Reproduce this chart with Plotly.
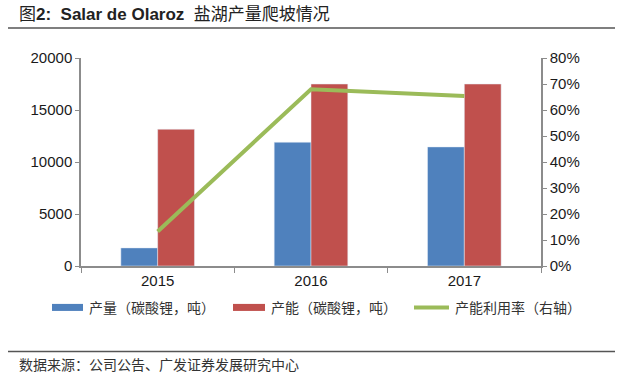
import plotly.graph_objects as go

years = ["2015", "2016", "2017"]
output_t = [1740, 11900, 11450]
capacity_t = [13150, 17500, 17500]
utilization = [0.133, 0.68, 0.654]
series_names = ["产量（碳酸锂，吨）", "产能（碳酸锂，吨）", "产能利用率（右轴）"]

blue = "#4F81BD"
red = "#C0504D"
green = "#9BBB59"
axis_col = "#8C8C8C"
txt = "#1a1a1a"

L, R, T, B = 81, 541, 58.3, 265.7
W, H = R - L, B - T

def px(x):
    return (x - L) / W

def py(y):
    return (B - y) / H

fig = go.Figure()
fig.add_trace(go.Bar(x=years, y=output_t, marker_color=blue, showlegend=False,
                     name=series_names[0]))
fig.add_trace(go.Bar(x=years, y=capacity_t, marker_color=red, showlegend=False,
                     name=series_names[1]))
fig.add_trace(go.Scatter(x=years, y=utilization, mode="lines", line=dict(color=green, width=4),
                         name=series_names[2], yaxis="y2", showlegend=False))

fig.update_layout(
    width=640, height=378,
    margin=dict(l=L, r=640 - R, t=T, b=378 - B, autoexpand=False),
    paper_bgcolor="white", plot_bgcolor="white",
    barmode="group", bargap=0.52, bargroupgap=0,
    font=dict(family="Liberation Sans, Arial, sans-serif", size=15, color=txt),
    xaxis=dict(type="category", categoryorder="array", categoryarray=years,
               showline=True, linecolor=axis_col, linewidth=1.5,
               ticks="outside", tickson="boundaries", ticklen=5, tickcolor=axis_col,
               tickfont=dict(size=15, color=txt), showgrid=False, zeroline=False),
    yaxis=dict(range=[0, 20000], dtick=5000, tickformat="d", showline=True, linecolor=axis_col,
               linewidth=1.5, ticks="outside", ticklen=4, tickcolor=axis_col, showgrid=False,
               zeroline=False, tickfont=dict(size=15, color=txt)),
    yaxis2=dict(range=[0, 0.8], dtick=0.1, tickformat=".0%", overlaying="y", side="right",
                showline=True, linecolor=axis_col, linewidth=1.5, ticks="outside", ticklen=4,
                tickcolor=axis_col, showgrid=False, zeroline=False,
                tickfont=dict(size=15, color=txt)),
    showlegend=False,
)

# manual legend (one row, like the reference)
leg_y = 307
leg_items = [(52, 83, blue, "rect"), (233, 265, red, "rect"), (414, 449, green, "line")]
for (x0, x1, col, kind), name in zip(leg_items, series_names):
    if kind == "rect":
        fig.add_shape(type="rect", xref="paper", yref="paper", x0=px(x0), x1=px(x1),
                      y0=py(leg_y - 3.5), y1=py(leg_y + 3.5), line=dict(width=0), fillcolor=col)
    else:
        fig.add_shape(type="line", xref="paper", yref="paper", x0=px(x0), x1=px(x1),
                      y0=py(leg_y), y1=py(leg_y), line=dict(color=col, width=4))
    fig.add_annotation(xref="paper", yref="paper", x=px(x1 + 4), y=py(leg_y), xanchor="left",
                       yanchor="middle", showarrow=False, text=name,
                       font=dict(family="Noto Sans CJK SC", size=14, color="#333"))

fig.add_annotation(xref="paper", yref="paper", x=px(17), y=py(15), xanchor="left", yanchor="middle",
                   showarrow=False,
                   text="图<b>2:  Salar de Olaroz</b>  盐湖产量爬坡情况",
                   font=dict(family="Liberation Sans, Noto Sans CJK SC", size=17, color="#222"))
fig.add_annotation(xref="paper", yref="paper", x=px(17), y=py(363), xanchor="left", yanchor="middle",
                   showarrow=False, text="数据来源：公司公告、广发证券发展研究中心",
                   font=dict(family="Noto Sans CJK SC", size=14, color="#333"))

for yy in (28.5, 351):
    fig.add_shape(type="line", xref="paper", yref="paper", x0=px(8), x1=px(615),
                  y0=py(yy), y1=py(yy), line=dict(color="#555", width=1.5))

fig.write_html("out.html", config={"displayModeBar": False},
               post_script="document.body.style.margin='0px';")
